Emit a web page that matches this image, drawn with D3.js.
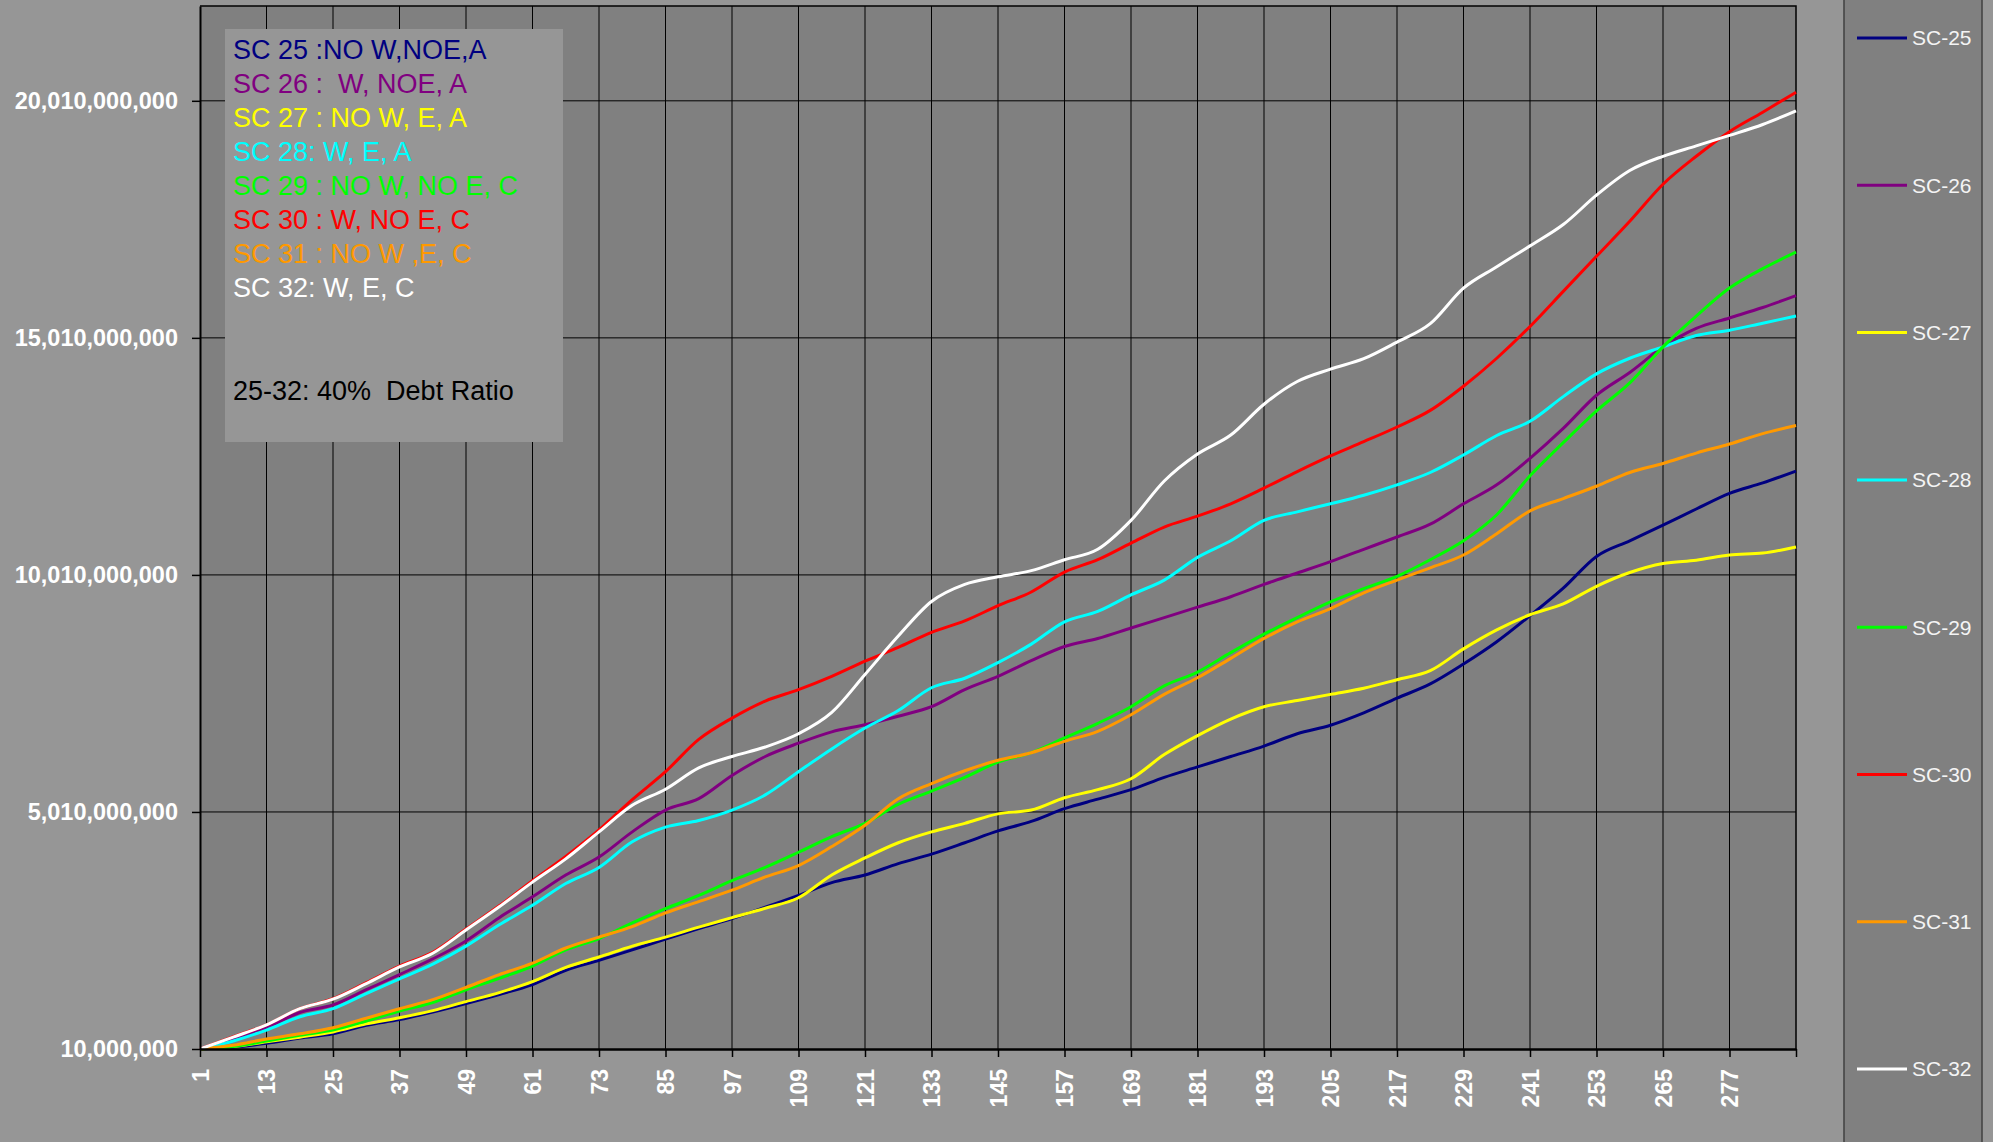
<!DOCTYPE html>
<html>
<head>
<meta charset="utf-8">
<script src="https://cdn.jsdelivr.net/npm/d3@7"></script>
<style>
  body { margin: 0; background: #969696; }
  svg text { font-family: Arial, "Liberation Sans", sans-serif; }
</style>
</head>
<body>
<div id="chart"></div>
<script>
// month index of each sampled point
var months = [1, 7, 13, 19, 25, 31, 37, 43, 49, 55, 61, 67, 73, 79, 85, 91, 97, 103, 109, 115, 121, 127, 133, 139, 145,
  151, 157, 163, 169, 175, 181, 187, 193, 199, 205, 211, 217, 223, 229, 235, 241, 247, 253, 259, 265, 271, 277, 283, 289];

// values in billions
var sc25 = [0.01, 0.05, 0.13, 0.24, 0.33, 0.51, 0.63, 0.79, 0.97, 1.16, 1.37, 1.67, 1.88, 2.10, 2.33, 2.55, 2.76, 3.00, 3.25, 3.52, 3.68, 3.92, 4.12, 4.36, 4.61,
  4.81, 5.08, 5.28, 5.48, 5.74, 5.96, 6.18, 6.40, 6.66, 6.84, 7.10, 7.41, 7.71, 8.13, 8.60, 9.15, 9.73, 10.40, 10.73, 11.06, 11.40, 11.73, 11.95, 12.20];
var sc26 = [0.01, 0.22, 0.46, 0.78, 0.94, 1.26, 1.58, 1.91, 2.29, 2.78, 3.22, 3.68, 4.06, 4.59, 5.05, 5.29, 5.78, 6.18, 6.46, 6.70, 6.85, 7.03, 7.23, 7.59, 7.87,
  8.20, 8.50, 8.67, 8.89, 9.11, 9.33, 9.55, 9.81, 10.05, 10.29, 10.55, 10.81, 11.08, 11.51, 11.91, 12.47, 13.10, 13.80, 14.28, 14.82, 15.21, 15.43, 15.65, 15.90];
var sc27 = [0.01, 0.06, 0.16, 0.26, 0.37, 0.54, 0.67, 0.82, 1.01, 1.20, 1.43, 1.73, 1.95, 2.18, 2.37, 2.58, 2.78, 2.98, 3.20, 3.68, 4.04, 4.36, 4.59, 4.77, 4.97,
  5.05, 5.31, 5.48, 5.71, 6.22, 6.62, 6.97, 7.23, 7.36, 7.49, 7.62, 7.80, 7.99, 8.45, 8.85, 9.17, 9.40, 9.77, 10.06, 10.25, 10.32, 10.43, 10.47, 10.60];
var sc28 = [0.01, 0.18, 0.41, 0.69, 0.86, 1.18, 1.49, 1.80, 2.18, 2.63, 3.04, 3.50, 3.84, 4.38, 4.69, 4.83, 5.05, 5.37, 5.86, 6.34, 6.78, 7.15, 7.63, 7.83, 8.16,
  8.55, 9.02, 9.24, 9.59, 9.90, 10.38, 10.73, 11.16, 11.34, 11.51, 11.69, 11.91, 12.17, 12.54, 12.95, 13.25, 13.77, 14.25, 14.58, 14.82, 15.06, 15.17, 15.32, 15.47];
var sc29 = [0.01, 0.06, 0.18, 0.30, 0.41, 0.60, 0.81, 0.99, 1.26, 1.50, 1.76, 2.10, 2.34, 2.67, 2.97, 3.25, 3.56, 3.84, 4.16, 4.49, 4.77, 5.17, 5.45, 5.74, 6.06,
  6.26, 6.57, 6.88, 7.23, 7.67, 7.96, 8.37, 8.76, 9.11, 9.44, 9.72, 9.98, 10.33, 10.73, 11.28, 12.10, 12.80, 13.47, 14.06, 14.82, 15.47, 16.06, 16.47, 16.82];
var sc30 = [0.01, 0.27, 0.52, 0.86, 1.07, 1.41, 1.76, 2.05, 2.54, 3.03, 3.56, 4.07, 4.63, 5.27, 5.86, 6.54, 6.99, 7.35, 7.59, 7.87, 8.19, 8.48, 8.80, 9.04, 9.36,
  9.65, 10.07, 10.33, 10.68, 11.02, 11.25, 11.51, 11.84, 12.19, 12.52, 12.82, 13.13, 13.48, 13.99, 14.58, 15.25, 15.99, 16.73, 17.47, 18.25, 18.84, 19.36, 19.77, 20.19];
var sc31 = [0.01, 0.09, 0.22, 0.33, 0.46, 0.66, 0.86, 1.05, 1.31, 1.58, 1.82, 2.14, 2.37, 2.59, 2.88, 3.12, 3.36, 3.64, 3.88, 4.28, 4.73, 5.29, 5.61, 5.88, 6.10,
  6.26, 6.50, 6.71, 7.06, 7.49, 7.84, 8.25, 8.67, 9.02, 9.30, 9.63, 9.90, 10.16, 10.43, 10.88, 11.36, 11.62, 11.88, 12.17, 12.36, 12.58, 12.77, 12.99, 13.16];
var sc32 = [0.01, 0.26, 0.52, 0.86, 1.06, 1.39, 1.74, 2.03, 2.52, 3.01, 3.53, 4.02, 4.59, 5.15, 5.49, 5.94, 6.18, 6.38, 6.66, 7.11, 7.91, 8.72, 9.45, 9.81, 9.97,
  10.10, 10.33, 10.55, 11.16, 11.99, 12.56, 12.96, 13.61, 14.09, 14.35, 14.57, 14.92, 15.31, 16.06, 16.51, 16.95, 17.40, 18.02, 18.54, 18.84, 19.06, 19.28, 19.51, 19.80];

var seriesNames = ["SC-25", "SC-26", "SC-27", "SC-28", "SC-29", "SC-30", "SC-31", "SC-32"];
var seriesValues = [sc25, sc26, sc27, sc28, sc29, sc30, sc31, sc32];
var seriesColors = ["#000080", "#800080", "#FFFF00", "#00FFFF", "#00FF00", "#FF0000", "#FF9900", "#FFFFFF"];

var xTicks = [1, 13, 25, 37, 49, 61, 73, 85, 97, 109, 121, 133, 145, 157, 169, 181, 193, 205, 217, 229, 241, 253, 265, 277];
var yTicks = [0.01, 5.01, 10.01, 15.01, 20.01];
var yTickLabels = ["10,000,000", "5,010,000,000", "10,010,000,000", "15,010,000,000", "20,010,000,000"];

var notes = ["SC 25 :NO W,NOE,A", "SC 26 :  W, NOE, A", "SC 27 : NO W, E, A", "SC 28: W, E, A",
  "SC 29 : NO W, NO E, C", "SC 30 : W, NO E, C", "SC 31 : NO W ,E, C", "SC 32: W, E, C"];
var noteFooter = "25-32: 40%  Debt Ratio";

// dimensions of the page and the plot area
var width = 1993, height = 1142;
var plot = { left: 200, right: 1796, top: 6, bottom: 1049 };

var svg = d3
  .select("#chart")
  .append("svg")
  .attr("width", width)
  .attr("height", height);

svg.append("rect").attr("width", width).attr("height", height).attr("fill", "#969696");

// plot area background
svg
  .append("rect")
  .attr("x", plot.left)
  .attr("y", plot.top)
  .attr("width", plot.right - plot.left)
  .attr("height", plot.bottom - plot.top)
  .attr("fill", "#808080");

var x = d3.scaleLinear().domain([1, 289]).range([plot.left, plot.right]);
var y = d3.scaleLinear().domain([0.01, 22.01]).range([plot.bottom, plot.top]);

// vertical grid
svg
  .append("g")
  .selectAll("line")
  .data(xTicks.slice(1))
  .enter()
  .append("line")
  .attr("x1", function (d) { return x(d); })
  .attr("x2", function (d) { return x(d); })
  .attr("y1", plot.top)
  .attr("y2", plot.bottom)
  .attr("stroke", "#000")
  .attr("stroke-width", 1);

// horizontal grid
svg
  .append("g")
  .selectAll("line")
  .data(yTicks.slice(1))
  .enter()
  .append("line")
  .attr("x1", plot.left)
  .attr("x2", plot.right)
  .attr("y1", function (d) { return y(d); })
  .attr("y2", function (d) { return y(d); })
  .attr("stroke", "#000")
  .attr("stroke-width", 1);

// plot border top and right
svg
  .append("path")
  .attr("d", "M" + plot.left + "," + plot.top + "H" + plot.right + "V" + plot.bottom)
  .attr("fill", "none")
  .attr("stroke", "#000")
  .attr("stroke-width", 1.5);

// the lines
var line = d3
  .line()
  .x(function (d, i) { return x(months[i]); })
  .y(function (d) { return y(d); })
  .curve(d3.curveMonotoneX);

svg
  .append("g")
  .selectAll("path")
  .data(seriesValues)
  .enter()
  .append("path")
  .attr("d", line)
  .attr("fill", "none")
  .attr("stroke", function (d, i) { return seriesColors[i]; })
  .attr("stroke-width", 3)
  .attr("stroke-linejoin", "round");

// Y axis
var yAxis = svg
  .append("g")
  .attr("transform", "translate(" + plot.left + ",0)")
  .call(
    d3.axisLeft(y)
      .tickValues(yTicks)
      .tickFormat(function (d, i) { return yTickLabels[i]; })
      .tickSize(8)
      .tickSizeOuter(0)
      .tickPadding(14)
  );
yAxis.select(".domain").attr("stroke", "#000").attr("stroke-width", 2);
yAxis.selectAll(".tick line").attr("stroke", "#000").attr("stroke-width", 1.5);
yAxis
  .selectAll("text")
  .attr("fill", "#fff")
  .attr("font-size", "23.5px")
  .attr("font-weight", "bold");

// X axis
var xAxis = svg
  .append("g")
  .attr("transform", "translate(0," + plot.bottom + ")")
  .call(
    d3.axisBottom(x)
      .tickValues(xTicks.concat([289]))
      .tickFormat(function (d) { return xTicks.indexOf(d) >= 0 ? d : ""; })
      .tickSize(8)
      .tickSizeOuter(0)
  );
xAxis.select(".domain").attr("stroke", "#000").attr("stroke-width", 2.5);
xAxis.selectAll(".tick line").attr("stroke", "#000").attr("stroke-width", 1.5);
xAxis
  .selectAll("text")
  .attr("transform", "rotate(-90)")
  .attr("text-anchor", "end")
  .attr("x", -20)
  .attr("y", 0)
  .attr("dy", "0.35em")
  .attr("fill", "#fff")
  .attr("font-size", "23px")
  .attr("font-weight", "bold");

// notes box in the top left corner
svg
  .append("rect")
  .attr("x", 225)
  .attr("y", 29)
  .attr("width", 338)
  .attr("height", 413)
  .attr("fill", "#969696");

svg
  .append("g")
  .selectAll("text")
  .data(notes)
  .enter()
  .append("text")
  .attr("x", 233)
  .attr("y", function (d, i) { return 59 + i * 34.05; })
  .attr("font-size", "27px")
  .style("white-space", "pre")
  .attr("fill", function (d, i) { return seriesColors[i]; })
  .text(function (d) { return d; });

svg
  .append("text")
  .attr("x", 233)
  .attr("y", 400)
  .attr("font-size", "27px")
  .style("white-space", "pre")
  .attr("fill", "#000")
  .text(noteFooter);

// legend panel on the right
svg
  .append("rect")
  .attr("x", 1844)
  .attr("y", -2)
  .attr("width", 138)
  .attr("height", height + 4)
  .attr("fill", "#808080")
  .attr("stroke", "#404040")
  .attr("stroke-width", 1.5);

var legend = svg
  .append("g")
  .selectAll("g")
  .data(seriesNames)
  .enter()
  .append("g")
  .attr("transform", function (d, i) { return "translate(1857," + (38 + i * 147.3) + ")"; });

legend
  .append("line")
  .attr("x1", 0)
  .attr("x2", 50)
  .attr("stroke", function (d, i) { return seriesColors[i]; })
  .attr("stroke-width", 3);

legend
  .append("text")
  .attr("x", 55)
  .attr("dy", "0.35em")
  .attr("font-size", "21px")
  .attr("fill", "#f4f4f4")
  .text(function (d) { return d; });
</script>
</body>
</html>
